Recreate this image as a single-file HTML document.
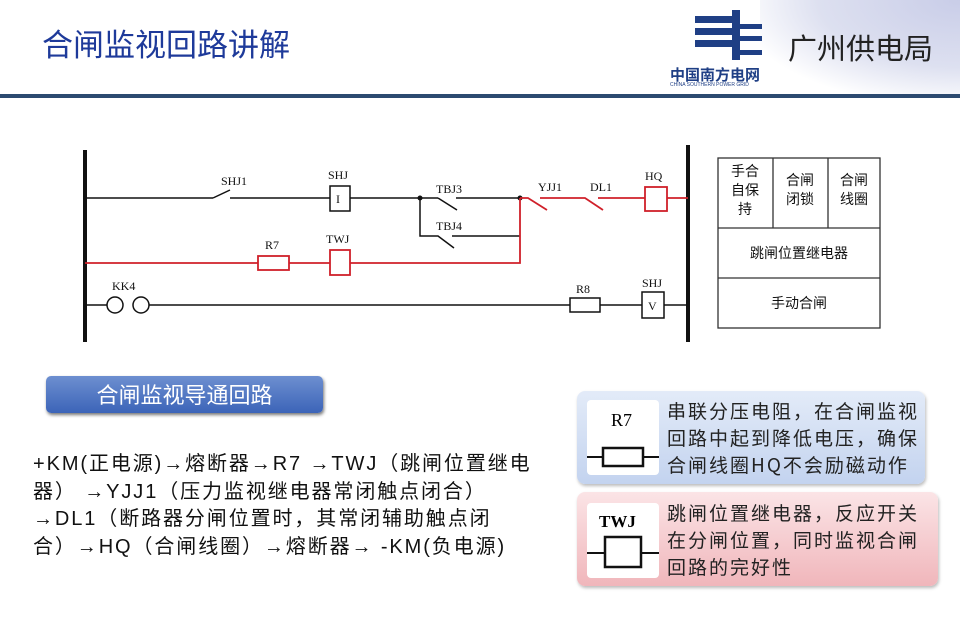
<!DOCTYPE html><html><head><meta charset="utf-8"><style>
body{margin:0;width:960px;height:622px;overflow:hidden;background:#fff;font-family:"Liberation Sans","Noto Sans CJK SC",sans-serif;position:relative}
.a{position:absolute}
.c{font-size:19px;line-height:27px;color:#222;font-family:'Noto Sans CJK SC',sans-serif;letter-spacing:2px;white-space:nowrap}
</style></head><body>
<div class="a" style="left:760px;top:0;width:200px;height:95px;background:radial-gradient(ellipse at 100% 0%,#c9cde8 0%,#dde0f0 50%,rgba(255,255,255,0) 80%)"></div>
<div class="a" style="left:42px;top:20px;font-size:31px;color:#1e3a9a;font-family:'Noto Sans CJK SC',sans-serif">合闸监视回路讲解</div>
<div class="a" style="left:0;top:94px;width:960px;height:4px;background:#2c4a70"></div>
<svg class="a" style="left:690px;top:8px" width="80" height="56"><g fill="#1f3f85"><rect x="5" y="8" width="40" height="7"/><rect x="5" y="20" width="45" height="7"/><rect x="5" y="32" width="40" height="7"/><rect x="42" y="2" width="8" height="50"/><rect x="50" y="16" width="22" height="5"/><rect x="50" y="28" width="22" height="5"/><rect x="50" y="42" width="22" height="5"/></g></svg>
<div class="a" style="left:670px;top:64px;font-size:15px;font-weight:bold;color:#1f3f85">中国南方电网</div>
<div class="a" style="left:670px;top:82px;font-size:5px;color:#1f3f85">CHINA SOUTHERN POWER GRID</div>
<div class="a" style="left:788px;top:26px;font-size:29px;color:#222">广州供电局</div>

<svg class="a" style="left:0;top:0" width="960" height="622" font-family="Liberation Serif,serif" font-size="12">
<g stroke="#111" fill="none" stroke-width="1.5">
<line x1="85" y1="150" x2="85" y2="342" stroke-width="4"/>
<line x1="688" y1="145" x2="688" y2="342" stroke-width="4"/>
<path d="M85 198H213M245 198H330M350 198H420H438M456 198H520"/>
<path d="M213 198L230 190M230 198H245"/>
<rect x="330" y="186" width="20" height="25" fill="#fff"/>
<path d="M438 198L457 210M420 198V236H438L454 248M452 236H520"/>
<path d="M85 305H107M149 305H570M600 305H642M664 305H688"/>
<circle cx="115" cy="305" r="8"/><circle cx="141" cy="305" r="8"/>
<rect x="570" y="298" width="30" height="14"/>
<rect x="642" y="292" width="22" height="26"/>
</g>
<circle cx="420" cy="198" r="2.5" fill="#111"/><circle cx="520" cy="198" r="2.5" fill="#111"/>
<g stroke="#d0202a" fill="none" stroke-width="1.8">
<path d="M520 198V263H350M330 263H289M258 263H85"/>
<rect x="258" y="256" width="31" height="14"/><rect x="330" y="250" width="20" height="25"/>
<path d="M520 198H528L547 210M540 198H585L603 210M598 198H645M667 198H688"/>
<rect x="645" y="187" width="22" height="24"/>
</g>
<g fill="#111">
<text x="221" y="185">SHJ1</text><text x="328" y="179">SHJ</text><text x="336" y="203">I</text>
<text x="436" y="193">TBJ3</text><text x="436" y="230">TBJ4</text>
<text x="538" y="191">YJJ1</text><text x="590" y="191">DL1</text><text x="645" y="180">HQ</text>
<text x="265" y="249">R7</text><text x="326" y="243">TWJ</text><text x="112" y="290">KK4</text>
<text x="576" y="293">R8</text><text x="642" y="287">SHJ</text><text x="648" y="310">V</text>
</g>
<g stroke="#333" fill="none" stroke-width="1.3"><rect x="718" y="158" width="162" height="170"/><path d="M718 228H880M718 278H880M773 158V228M828 158V228"/></g>
<g fill="#111" font-family="Noto Sans CJK SC,sans-serif" font-size="14" text-anchor="middle">
<text x="745" y="176">手合</text><text x="745" y="195">自保</text><text x="745" y="214">持</text>
<text x="800" y="185">合闸</text><text x="800" y="204">闭锁</text>
<text x="854" y="185">合闸</text><text x="854" y="204">线圈</text>
<text x="799" y="258">跳闸位置继电器</text><text x="799" y="308">手动合闸</text>
</g>
</svg>

<div class="a" style="left:46px;top:376px;width:277px;height:37px;border-radius:5px;background:linear-gradient(#6d8fd0,#3c64b8);box-shadow:1px 2px 3px #777;color:#fff;font-size:22px;line-height:37px;text-align:center;font-family:'Noto Sans CJK SC',sans-serif">合闸监视导通回路</div>
<div class="a" style="left:33px;top:451px;font-size:20px;letter-spacing:1.9px;line-height:27.5px;color:#111;white-space:nowrap">+KM(正电源)→熔断器→R7 →TWJ（跳闸位置继电<br>器） →YJJ1（压力监视继电器常闭触点闭合）<br>→DL1（断路器分闸位置时，其常闭辅助触点闭<br>合）→HQ（合闸线圈）→熔断器→ -KM(负电源)</div>

<div class="a" style="left:577px;top:391px;width:348px;height:93px;border-radius:8px;background:linear-gradient(#e3ebf8,#c3d3ef);box-shadow:1px 2px 3px #bbb"></div>
<div class="a" style="left:587px;top:400px;width:72px;height:75px;background:#fff;border-radius:4px"></div>
<svg class="a" style="left:587px;top:400px" width="72" height="75"><text x="24" y="26" font-family="Liberation Serif,serif" font-size="18">R7</text><path d="M0 57H16M56 57H72" stroke="#111" stroke-width="2"/><rect x="16" y="48" width="40" height="18" fill="none" stroke="#111" stroke-width="2.5"/></svg>
<div class="a c" style="left:667px;top:397px">串联分压电阻，在合闸监视<br>回路中起到降低电压，确保<br>合闸线圈HQ不会励磁动作</div>

<div class="a" style="left:577px;top:492px;width:361px;height:94px;border-radius:8px;background:linear-gradient(#fbe4e6,#f0b6bb);box-shadow:1px 2px 3px #bbb"></div>
<div class="a" style="left:587px;top:503px;width:72px;height:75px;background:#fff;border-radius:4px"></div>
<svg class="a" style="left:587px;top:503px" width="72" height="75"><text x="12" y="24" font-family="Liberation Serif,serif" font-size="17" font-weight="bold">TWJ</text><path d="M0 50H18M54 50H72" stroke="#111" stroke-width="2"/><rect x="18" y="34" width="36" height="30" fill="none" stroke="#111" stroke-width="2.5"/></svg>
<div class="a c" style="left:667px;top:499px">跳闸位置继电器，反应开关<br>在分闸位置，同时监视合闸<br>回路的完好性</div>
</body></html>
